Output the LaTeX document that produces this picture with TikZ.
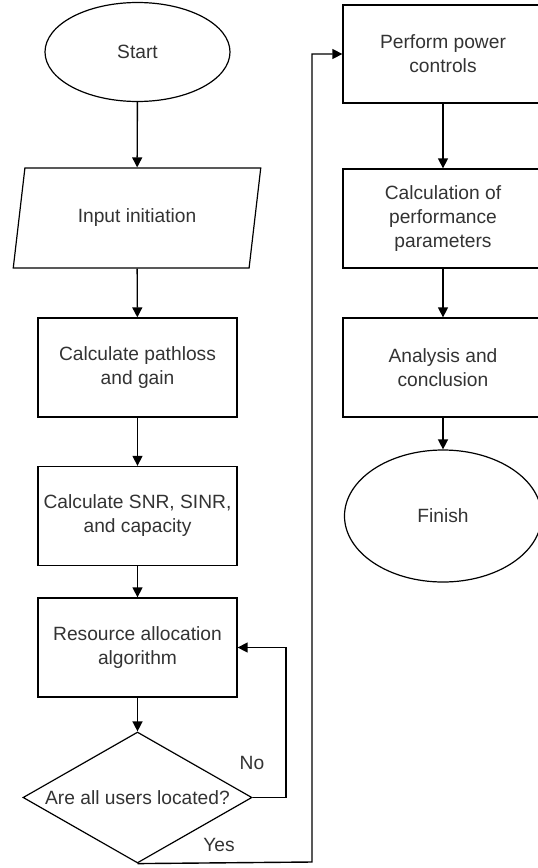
\documentclass[tikz,border=0pt]{standalone}
\usepackage{fontspec}
\setmainfont{Liberation Sans}
\usetikzlibrary{shapes.geometric, arrows.meta, positioning, calc}

\begin{document}
\begin{tikzpicture}[
  x=1pt, y=-1pt,
  font=\fontsize{19.2}{24}\selectfont,
  text=black!80,
  blocco/.style={draw=black, line width=1.3pt, minimum width=199pt, minimum height=99pt, align=center, inner sep=2pt},
  terminale/.style={draw=black, line width=1.2pt, ellipse, inner sep=0pt},
  dati/.style={draw=black, line width=1.2pt, trapezium, trapezium left angle=71, trapezium right angle=109,
    trapezium stretches=true, minimum width=248pt, minimum height=100pt, inner sep=0pt},
  decisione/.style={draw=black, line width=1.2pt, diamond, minimum width=229pt, minimum height=131pt, inner sep=0pt},
  freccia/.style={draw=black, line width=1.4pt, -{Triangle[length=10pt,width=10pt]}},
  etichetta/.style={inner sep=0pt}
]

% ---- area visibile ----------------------------------------------------
\clip (0,0) rectangle (538,868);
\fill[white] (0,0) rectangle (538,868);

%==============================================================
% Colonna sinistra
%==============================================================
\node[terminale, minimum width=185pt, minimum height=99pt] (start) at (137.5,52) {Start};
\node[dati] (input) at (137,218) {Input initiation};
\node[blocco] (pathloss) at (137.5,367.5) {Calculate pathloss\\ and gain};
\node[blocco] (snr) at (137.5,516) {Calculate SNR, SINR,\\ and capacity};
\node[blocco] (risorse) at (137.5,647.5) {Resource allocation\\ algorithm};
\node[decisione, label=center:{Are all users located?}] (verifica) at (137.5,797.5) {};

\draw[freccia] (start) -- (input);
\draw[freccia] (input) -- (pathloss);
\draw[freccia] (pathloss) -- (snr);
\draw[freccia] (snr) -- (risorse);
\draw[freccia] (risorse) -- (verifica);

% ritorno "No"
\coordinate (giro) at (286,797.5);
\draw[freccia] (verifica.east) -- (giro) |- (risorse.east);
\node[etichetta] (no) at (252,763) {No};

%==============================================================
% Colonna destra
%==============================================================
\node[blocco, minimum width=200pt, minimum height=98pt] (potenza) at (443,54) {Perform power\\ controls};
\node[blocco, minimum width=200pt] (prestazioni) at (443,218.5) {Calculation of\\ performance\\ parameters};
\node[blocco, minimum width=200pt] (analisi) at (443,367.5) {Analysis and\\ conclusion};
\node[terminale, minimum width=197pt, minimum height=132pt] (fine) at (443,516) {Finish};

% uscita "Yes"
\coordinate (salita) at (312,862);
\draw[freccia] (verifica.south) -- (salita) |- (potenza.west);
\node[etichetta] (si) at (219,845) {Yes};

\draw[freccia] (potenza) -- (prestazioni);
\draw[freccia] (prestazioni) -- (analisi);
\draw[freccia] (analisi) -- (fine);

\end{tikzpicture}
\end{document}
